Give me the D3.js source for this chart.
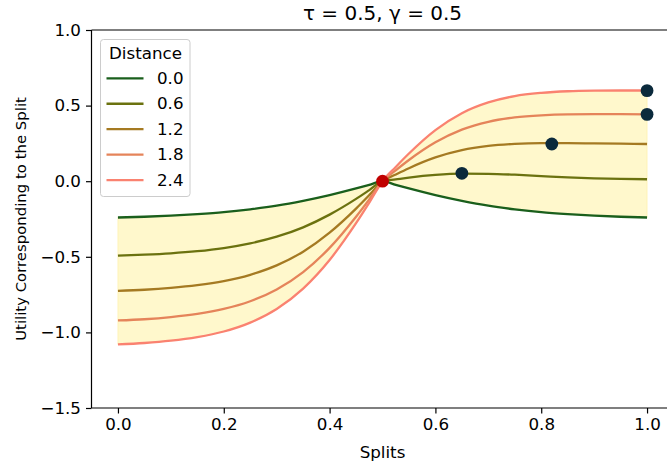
<!DOCTYPE html>
<html>
<head>
<meta charset="utf-8">
<script src="https://cdn.jsdelivr.net/npm/d3@7"></script>
<style>
  html, body { margin: 0; padding: 0; background: #fff; }
  svg { display: block; font-family: "DejaVu Sans", sans-serif; }
</style>
</head>
<body>
<svg id="chart" width="667" height="465"></svg>
<script>
// ---- data ----
const splits = [0, 0.05, 0.1, 0.15, 0.2, 0.25, 0.3, 0.35, 0.4, 0.45, 0.475, 0.5, 0.525, 0.55, 0.6, 0.65, 0.7, 0.75, 0.8, 0.85, 0.9, 0.95, 1.0];
const distances = ["0.0", "0.6", "1.2", "1.8", "2.4"];
const util00 = [-0.240, -0.235, -0.228, -0.218, -0.205, -0.186, -0.162, -0.130, -0.092, -0.048, -0.024, 0, -0.024, -0.048, -0.092, -0.130, -0.162, -0.186, -0.205, -0.218, -0.228, -0.235, -0.240];
const util06 = [-0.492, -0.486, -0.477, -0.463, -0.442, -0.411, -0.367, -0.305, -0.221, -0.117, -0.059, 0, 0.012, 0.024, 0.042, 0.050, 0.049, 0.043, 0.034, 0.025, 0.019, 0.015, 0.013];
const util12 = [-0.725, -0.718, -0.706, -0.688, -0.661, -0.619, -0.557, -0.466, -0.340, -0.181, -0.092, 0, 0.044, 0.086, 0.157, 0.205, 0.233, 0.247, 0.252, 0.252, 0.250, 0.248, 0.246];
const util18 = [-0.921, -0.913, -0.899, -0.878, -0.845, -0.794, -0.716, -0.601, -0.441, -0.235, -0.120, 0, 0.072, 0.140, 0.257, 0.341, 0.393, 0.422, 0.436, 0.442, 0.443, 0.443, 0.442];
const util24 = [-1.079, -1.070, -1.055, -1.031, -0.994, -0.935, -0.845, -0.710, -0.521, -0.278, -0.142, 0, 0.094, 0.183, 0.338, 0.450, 0.521, 0.563, 0.584, 0.595, 0.599, 0.600, 0.600];
const seriesColors = ["#1a5f1c", "#6b720f", "#a57a22", "#e5845a", "#fa8270"];
const bestSplits = [0.65, 0.82, 1.0, 1.0];
const bestUtils = [0.052, 0.246, 0.442, 0.599];
const fairSplit = [0.5];
const fairUtil = [0];
const xTicks = [0, 0.2, 0.4, 0.6, 0.8, 1.0];
const yTicks = [-1.5, -1.0, -0.5, 0.0, 0.5, 1.0];
const titleText = "τ = 0.5, γ = 0.5";
const xLabel = "Splits";
const yLabel = "Utility Corresponding to the Split";
const legendTitle = "Distance";

const allSeries = [util00, util06, util12, util18, util24];

// ---- layout ----
const svg = d3.select("#chart");
const mLeft = 91.5, mRight = 673.5, mTop = 30, mBottom = 408;
const x = d3.scaleLinear().domain([-0.05, 1.05]).range([mLeft, mRight]);
const y = d3.scaleLinear().domain([-1.5, 1.0]).range([mBottom, mTop]);
const fmt = d3.format(".1f");
const fs = "16.7px";

// fill between min and max of all curves
const band = splits.map((s, i) => ({
  s,
  lo: d3.min(allSeries, a => a[i]),
  hi: d3.max(allSeries, a => a[i])
}));
const area = d3.area()
  .x(d => x(d.s)).y0(d => y(d.lo)).y1(d => y(d.hi))
  .curve(d3.curveMonotoneX);
svg.append("path").datum(band)
  .attr("d", area)
  .attr("fill", "#fff8cc")
  .attr("stroke", "#fff2b0")
  .attr("stroke-width", 0.8);

// lines
const line = d3.line()
  .x((d, i) => x(splits[i])).y(d => y(d))
  .curve(d3.curveMonotoneX);
allSeries.forEach((arr, k) => {
  svg.append("path").datum(arr)
    .attr("d", line)
    .attr("fill", "none")
    .attr("stroke", seriesColors[k])
    .attr("stroke-width", 2.3);
});

// fair split point
svg.selectAll(".fair").data(fairSplit).enter().append("circle")
  .attr("cx", d => x(d)).attr("cy", (d, i) => y(fairUtil[i]))
  .attr("r", 6.4).attr("fill", "#c00000");

// best split points
svg.selectAll(".best").data(bestSplits).enter().append("circle")
  .attr("cx", d => x(d)).attr("cy", (d, i) => y(bestUtils[i]))
  .attr("r", 6.4).attr("fill", "#0b2a3c");

// axes
const xAxis = d3.axisBottom(x).tickValues(xTicks).tickFormat(fmt).tickSize(5.5).tickPadding(4.5);
const yAxis = d3.axisLeft(y).tickValues(yTicks).tickFormat(fmt).tickSize(5.5).tickPadding(5);
const gx = svg.append("g").attr("transform", `translate(0,${mBottom})`).call(xAxis);
const gy = svg.append("g").attr("transform", `translate(${mLeft},0)`).call(yAxis);
[gx, gy].forEach(g => {
  g.select(".domain").remove();
  g.selectAll("line").attr("stroke", "#000").attr("stroke-width", 1.2);
  g.selectAll("text").attr("fill", "#000").attr("font-size", fs).attr("font-family", "DejaVu Sans, sans-serif");
});

// spines
const spine = (x1, y1, x2, y2) => svg.append("line").attr("x1", x1).attr("y1", y1).attr("x2", x2).attr("y2", y2)
  .attr("stroke", "#000").attr("stroke-width", 1.2);
spine(mLeft, mTop, mLeft, mBottom);
spine(mLeft, mBottom, mRight, mBottom);
spine(mLeft, mTop, mRight, mTop);
spine(mRight, mTop, mRight, mBottom);

// title and labels
svg.append("text").attr("x", (mLeft + mRight) / 2).attr("y", 20)
  .attr("text-anchor", "middle").attr("font-size", "20px").attr("fill", "#000").text(titleText);
svg.append("text").attr("x", (mLeft + mRight) / 2).attr("y", 458)
  .attr("text-anchor", "middle").attr("font-size", fs).attr("fill", "#000").text(xLabel);
svg.append("text").attr("transform", `translate(26,${(mTop + mBottom) / 2}) rotate(-90)`)
  .attr("text-anchor", "middle").attr("font-size", "14.9px").attr("fill", "#000").text(yLabel);

// legend
const lg = svg.append("g");
lg.append("rect").attr("x", 100.5).attr("y", 39.5).attr("width", 89.5).attr("height", 157)
  .attr("rx", 3).attr("fill", "rgba(255,255,255,0.8)").attr("stroke", "#cccccc").attr("stroke-width", 1);
lg.append("text").attr("x", 145.5).attr("y", 59).attr("text-anchor", "middle")
  .attr("font-size", fs).attr("fill", "#000").text(legendTitle);
distances.forEach((d, k) => {
  const yy = 78.3 + k * 25.45;
  lg.append("line").attr("x1", 106.5).attr("x2", 143.5).attr("y1", yy).attr("y2", yy)
    .attr("stroke", seriesColors[k]).attr("stroke-width", 2.3);
  lg.append("text").attr("x", 157).attr("y", yy + 5.5).attr("font-size", fs).attr("fill", "#000").text(d);
});
</script>
</body>
</html>
